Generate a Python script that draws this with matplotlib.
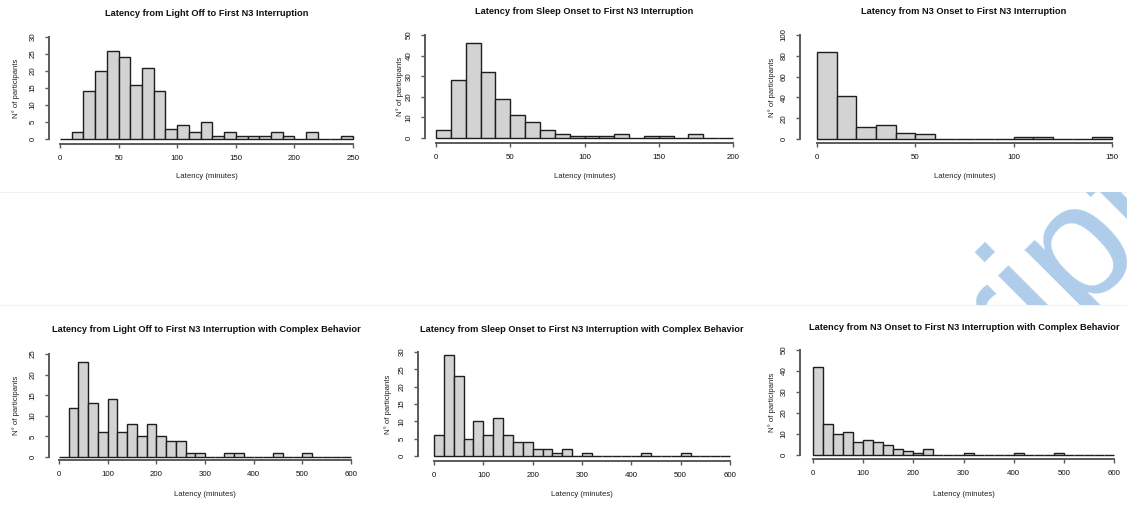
import numpy as np
import matplotlib
matplotlib.use("Agg")
import matplotlib.pyplot as plt
from matplotlib.transforms import Bbox, TransformedBbox, IdentityTransform

plt.rcParams['font.family'] = ['Liberation Sans', 'DejaVu Sans']

W, H = 1127, 508

# ---------------- data ----------------
titles = [
    "Latency from Light Off to First N3 Interruption",
    "Latency from Sleep Onset to First N3 Interruption",
    "Latency from N3 Onset to First N3 Interruption",
    "Latency from Light Off to First N3 Interruption with Complex Behavior",
    "Latency from Sleep Onset to First N3 Interruption with Complex Behavior",
    "Latency from N3 Onset to First N3 Interruption with Complex Behavior",
]
xlabel = "Latency (minutes)"
ylabel = "N° of participants"

counts_lightoff = [0, 2, 14, 20, 26, 24, 16, 21, 14, 3, 4, 2, 5, 1, 2, 1, 1, 1, 2, 1, 0, 2, 0, 0, 1]
counts_sleeponset = [4, 28, 46, 32, 19, 11, 8, 4, 2, 1, 1, 1, 2, 0, 1, 1, 0, 2, 0, 0]
counts_n3onset = [84, 41, 12, 13, 6, 5, 0, 0, 0, 0, 2, 2, 0, 0, 2]
counts_lightoff_cb = [0, 12, 23, 13, 6, 14, 6, 8, 5, 8, 5, 4, 4, 1, 1, 0, 0, 1, 1, 0,
                      0, 0, 1, 0, 0, 1, 0, 0, 0, 0]
counts_sleeponset_cb = [6, 29, 23, 5, 10, 6, 11, 6, 4, 4, 2, 2, 1, 2, 0, 1, 0, 0, 0, 0,
                        0, 1, 0, 0, 0, 1, 0, 0, 0, 0]
counts_n3onset_cb = [42, 15, 10, 11, 6, 7, 6, 5, 3, 2, 1, 3, 0, 0, 0, 1, 0, 0, 0, 0,
                     1, 0, 0, 0, 1, 0, 0, 0, 0, 0]

bin_widths = [10, 10, 10, 20, 20, 20]
x_max = [250, 200, 150, 600, 600, 600]
x_step = [50, 50, 50, 100, 100, 100]
y_max = [30, 50, 100, 25, 30, 50]
y_step = [5, 10, 20, 5, 5, 10]
all_counts = [counts_lightoff, counts_sleeponset, counts_n3onset,
              counts_lightoff_cb, counts_sleeponset_cb, counts_n3onset_cb]

# ---------------- layout (pixels, y down) ----------------
# x of data 0, x of data max, y of 0, y of ymax, yaxis x, xaxis y, title (x,y), ylabel x, xlabel y
layout = [
    (60, 353, 139, 37, 49, 144, 207, 14, 16, 177),
    (436, 733, 138, 35, 425, 143, 584, 12, 400, 177),
    (817, 1112, 139, 35, 800, 143, 964, 12, 772, 177),
    (59, 351, 457, 354, 49, 460, 206, 330, 16, 495),
    (434, 730, 456, 352, 418, 461, 582, 329, 388, 495),
    (813, 1114, 455, 350, 800, 459, 964, 328, 772, 495),
]

fig = plt.figure(figsize=(W / 100, H / 100), dpi=100)
fig.patch.set_facecolor('white')

PT = 0.72  # points per pixel at dpi 100
axis_col = '#5a5a5a'
for i in range(6):
    x0, x1, y0, y1, yax, xax, tx, ty, ylx, xly = layout[i]
    ax = fig.add_axes([x0 / W, (H - y0) / H, (x1 - x0) / W, (y0 - y1) / H])
    cnt = all_counts[i]
    bw = bin_widths[i]
    edges = np.arange(len(cnt)) * bw
    ax.bar(edges, cnt, width=bw, align='edge', color='#D3D3D3',
           edgecolor='#1e1e1e', linewidth=1.0, clip_on=False)
    ax.set_xlim(0, x_max[i])
    ax.set_ylim(0, y_max[i])
    ax.patch.set_visible(False)
    for s in ['top', 'right']:
        ax.spines[s].set_visible(False)
    ax.spines['left'].set_position(('outward', (x0 - yax) * PT))
    ax.spines['bottom'].set_position(('outward', (xax - y0) * PT))
    ax.spines['left'].set_bounds(0, y_max[i])
    ax.spines['bottom'].set_bounds(0, x_max[i])
    for s in ['left', 'bottom']:
        ax.spines[s].set_color(axis_col)
        ax.spines[s].set_linewidth(1.4)
    ax.set_xticks(np.arange(0, x_max[i] + 1, x_step[i]))
    ax.set_yticks(np.arange(0, y_max[i] + 1, y_step[i]))
    ax.tick_params(axis='both', length=3, width=1.0, color=axis_col,
                   labelsize=5.7, labelcolor='#111111')
    ax.tick_params(axis='x', pad=5)
    ax.tick_params(axis='y', pad=6)
    for lab in ax.get_yticklabels():
        lab.set_rotation(90)
        lab.set_va('center')
        lab.set_ha('right')
    fig.text(tx / W, 1 - ty / H, titles[i], ha='center', va='center',
             fontsize=6.7, fontweight='bold', color='#111111')
    fig.text((x0 + x1) / 2 / W, 1 - xly / H, xlabel, ha='center', va='center',
             fontsize=5.6, color='#222222')
    fig.text(ylx / W, 1 - (y0 + y1) / 2 / H, ylabel, ha='center', va='center',
             rotation=90, fontsize=5.6, color='#222222')

# faint band edges between rows
for yy in (192, 305):
    fig.add_artist(plt.Line2D([0, 1], [1 - yy / H, 1 - yy / H], color='#f2f2f2',
                              lw=0.8, transform=fig.transFigure))

# watermark, clipped to the band between rows
wm = fig.text(598 / W, -279 / H, "Manuscript", rotation=45, rotation_mode='anchor',
              ha='left', va='baseline', fontsize=120, color='#AFCDEA',
              family='Liberation Sans')
clipbox = TransformedBbox(Bbox([[0, H - 305], [W, H - 192]]), IdentityTransform())
wm.set_clip_box(clipbox)
wm.set_clip_on(True)

fig.savefig('out.png', dpi=100)
